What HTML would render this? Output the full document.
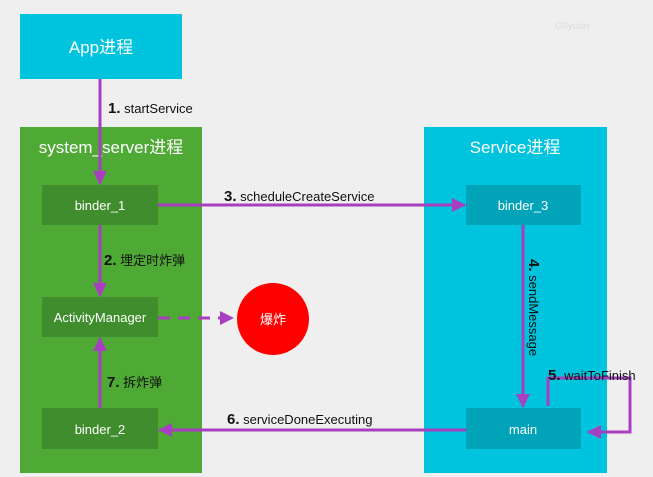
<!DOCTYPE html>
<html><head><meta charset="utf-8"><style>
body{margin:0;background:#efefef}
svg{display:block}
text{font-family:"Liberation Sans","Noto Sans CJK SC",sans-serif}
</style></head><body>
<svg width="653" height="477" viewBox="0 0 653 477" xmlns="http://www.w3.org/2000/svg">
<defs>
<marker id="b" markerWidth="14" markerHeight="14" refX="13" refY="7" orient="auto" markerUnits="userSpaceOnUse"><path d="M0,0 L14,7 L0,14 Z" fill="#a83fc0"/></marker>
</defs>
<rect width="653" height="477" fill="#efefef"/>
<text x="555" y="29" font-size="10" fill="#dcdcdc">Gityuan</text>
<rect x="20" y="14" width="162" height="65" fill="#00c3dd"/>
<text x="101" y="53" font-size="17" fill="#fff" text-anchor="middle">App进程</text>
<rect x="20" y="127" width="182" height="346" fill="#4fa935"/>
<text x="111" y="153" font-size="17" fill="#fff" text-anchor="middle">system_server进程</text>
<rect x="424" y="127" width="183" height="346" fill="#00c3dd"/>
<text x="515" y="153" font-size="17" fill="#fff" text-anchor="middle">Service进程</text>
<g fill="#3f8d2c">
<rect x="42" y="185" width="116" height="40"/>
<rect x="42" y="297" width="116" height="40"/>
<rect x="42" y="408" width="116" height="41"/>
</g>
<g fill="#00a3b8">
<rect x="466" y="185" width="115" height="40"/>
<rect x="466" y="408" width="115" height="41"/>
</g>
<g font-size="13" fill="#fff" text-anchor="middle">
<text x="100" y="210">binder_1</text>
<text x="100" y="322">ActivityManager</text>
<text x="100" y="434">binder_2</text>
<text x="523" y="210">binder_3</text>
<text x="523" y="434">main</text>
</g>
<circle cx="273" cy="319" r="36" fill="#ff0000"/>
<text x="273" y="324" font-size="13" fill="#fff" text-anchor="middle">爆炸</text>
<g stroke="#a83fc0" stroke-width="3" fill="none">
<path d="M100,79 V184" marker-end="url(#b)"/>
<path d="M158,205 H465" marker-end="url(#b)"/>
<path d="M100,225 V296" marker-end="url(#b)"/>
<path d="M158,318 H233" stroke-dasharray="12,8" marker-end="url(#b)"/>
<path d="M100,408 V338" marker-end="url(#b)"/>
<path d="M523,225 V407" marker-end="url(#b)"/>
<path d="M548,406 V378 H630 V432 H588" marker-end="url(#b)"/>
<path d="M466,430 H159" marker-end="url(#b)"/>
</g>
<g font-size="13" fill="#111">
<text x="108" y="113"><tspan font-weight="bold" font-size="15">1.</tspan> startService</text>
<text x="224" y="201"><tspan font-weight="bold" font-size="15">3.</tspan> scheduleCreateService</text>
<text x="104" y="265"><tspan font-weight="bold" font-size="15">2.</tspan> 埋定时炸弹</text>
<text x="107" y="387"><tspan font-weight="bold" font-size="15">7.</tspan> 拆炸弹</text>
<text x="227" y="424"><tspan font-weight="bold" font-size="15">6.</tspan> serviceDoneExecuting</text>
<text x="548" y="380"><tspan font-weight="bold" font-size="15">5.</tspan> waitToFinish</text>
<text transform="translate(529,259) rotate(90)"><tspan font-weight="bold" font-size="15">4.</tspan> sendMessage</text>
</g>
</svg>
</body></html>
